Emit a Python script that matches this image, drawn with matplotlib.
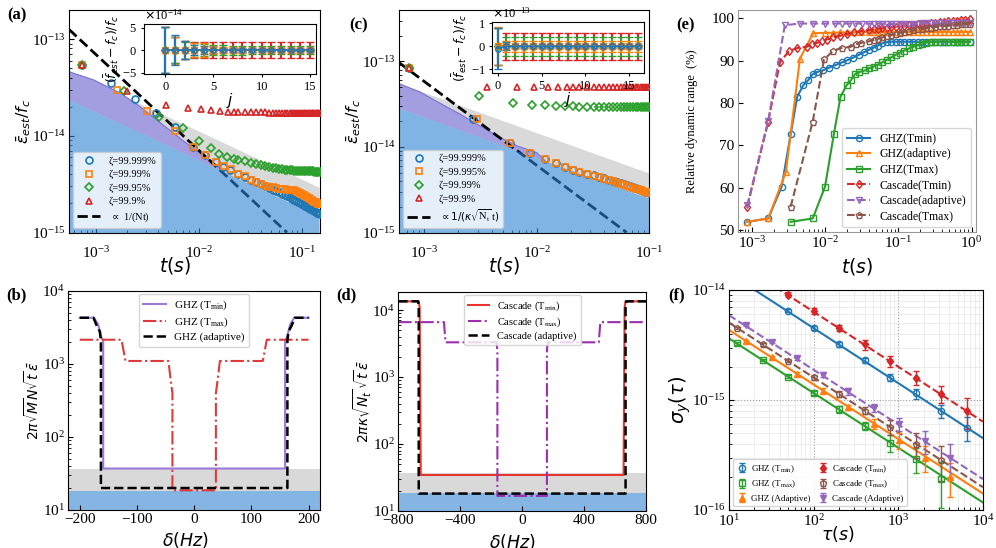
import numpy as np
import matplotlib
matplotlib.use("Agg")
import matplotlib.pyplot as plt

W, H = 996, 548

# ---------------- panel (a): GHZ, values in units of 1e-15 ----------------
A_T_TAIL = [0.024, 0.028, 0.032, 0.036, 0.040, 0.044, 0.048, 0.052, 0.056, 0.060,
            0.064, 0.068, 0.072, 0.076, 0.080, 0.084, 0.088, 0.092, 0.096, 0.100,
            0.104, 0.108, 0.112, 0.116, 0.120, 0.124, 0.128, 0.132, 0.136, 0.140,
            0.144, 0.148]
A_T_BLUE = [7.2e-4, 1.37e-3, 2.37e-3, 3.77e-3, 5.77e-3, 8.6e-3, 1.13e-2, 1.45e-2, 1.72e-2, 2.0e-2]
A_BLUE = [54, 35, 24, 17.4, 12.3, 7.7, 6.4, 5.4, 4.8, 4.4]
A_BLUE_TAIL = [4.0, 3.75, 3.5, 3.3, 3.15, 3.0, 2.88, 2.78, 2.68, 2.6, 2.52, 2.45, 2.38, 2.31,
               2.24, 2.17, 2.12, 2.07, 2.02, 1.97, 1.93, 1.88, 1.84, 1.80, 1.76, 1.73, 1.69,
               1.66, 1.63, 1.60, 1.58, 1.56]
A_T_ORANGE = [7.2e-4, 1.6e-3, 3.13e-3, 5.77e-3, 8.6e-3, 1.15e-2, 1.45e-2, 1.75e-2, 2.05e-2]
A_ORANGE = [54, 30, 18, 11.2, 7.7, 6.4, 5.4, 4.9, 4.5]
A_ORANGE_TAIL = [4.05, 3.8, 3.52, 3.35, 3.18, 3.05, 2.98, 2.93, 2.88, 2.84, 2.81, 2.79, 2.77,
                 2.76, 2.75, 2.72, 2.66, 2.6, 2.54, 2.48, 2.42, 2.37, 2.32, 2.27, 2.22, 2.17,
                 2.13, 2.09, 2.05, 2.02, 1.99, 1.96]
A_T_GREEN = [7.2e-4, 1.85e-3, 4.06e-3, 6.95e-3, 1.0e-2, 1.3e-2, 1.56e-2, 1.88e-2, 2.2e-2]
A_GREEN = [54, 29, 15.8, 12, 8.9, 7.4, 6.5, 6.1, 5.8]
A_GREEN_TAIL = [5.65, 5.45, 5.28, 5.12, 4.98, 4.87, 4.77, 4.68, 4.61, 4.55, 4.50, 4.46, 4.43,
                4.40, 4.38, 4.36, 4.34, 4.33, 4.32, 4.31, 4.30, 4.30, 4.29, 4.29, 4.28, 4.28,
                4.28, 4.27, 4.27, 4.27, 4.27, 4.27]
A_T_RED = [7.2e-4, 2.0e-3, 4.7e-3, 7.7e-3, 1.03e-2, 1.3e-2, 1.6e-2, 1.9e-2, 2.2e-2]
A_RED = [54, 29, 21, 19.2, 18.8, 18.5, 18.0, 17.8, 17.7]
A_RED_TAIL = [17.6, 17.6, 17.5, 17.5, 17.5, 17.5, 17.4, 17.4, 17.4, 17.4, 17.4, 17.4, 17.3,
              17.3, 17.3, 17.3, 17.3, 17.3, 17.3, 17.3, 17.3, 17.2, 17.2, 17.2, 17.2, 17.2,
              17.2, 17.2, 17.2, 17.2, 17.2, 17.2]
A_LABELS = ["ζ=99.999%", "ζ=99.99%", "ζ=99.95%", "ζ=99.9%"]
A_SHADE_T = [5.4e-4, 0.148]
A_BLUE_EDGE = [23.5, 1.46]
A_GRAY_EDGE = [47, 2.9]
A_PURPLE_T = [5.4e-4, 9.3e-4, 1.7e-3, 2.65e-3, 3.85e-3, 5.6e-3, 8.7e-3, 1.35e-2, 1.7e-2]
A_PURPLE = [46, 38, 27.7, 20, 14.6, 10.7, 7.4, 5.4, 4.26]
A_FIT_T = [5.4e-4, 0.0714]
A_FIT = [126, 1.0]

# inset (a): errors in units of 1e-14
A_J = [0, 1, 2, 3, 4, 5, 6, 7, 8, 9, 10, 11, 12, 13, 14, 15]
A_IN_MEAN = [0, 0, 0, 0, 0, 0, 0, 0, 0, 0, 0, 0, 0, 0, 0, 0]
A_IN_BLUE_ERR = [5.2, 3.3, 2.1, 1.2, 0.8, 0.6, 0.5, 0.45, 0.4, 0.35, 0.3, 0.3, 0.3, 0.3, 0.3, 0.3]
A_IN_ORANGE_ERR = [5.2, 3.0, 2.0, 1.6, 1.5, 0.9, 0.7, 0.6, 0.55, 0.5, 0.45, 0.4, 0.4, 0.4, 0.35, 0.35]
A_IN_GREEN_ERR = [5.2, 2.9, 1.9, 1.5, 1.4, 1.2, 1.1, 1.0, 1.0, 0.9, 0.9, 0.9, 0.9, 0.9, 0.9, 0.9]
A_IN_RED_ERR = [5.2, 2.9, 2.0, 1.7, 1.7, 1.7, 1.7, 1.7, 1.7, 1.7, 1.7, 1.7, 1.7, 1.7, 1.7, 1.7]

# ---------------- panel (c): Cascade, values in units of 1e-15 ----------------
C_T_TAIL = [0.024, 0.028, 0.032, 0.036, 0.040, 0.044, 0.048, 0.052, 0.056, 0.060,
            0.064, 0.068, 0.072, 0.076, 0.080, 0.084, 0.088, 0.092, 0.096, 0.100]
C_T_BLUE = [7.4e-4, 2.75e-3, 5.8e-3, 8.75e-3, 1.19e-2, 1.49e-2, 1.8e-2, 2.1e-2]
C_BLUE = [85, 21.5, 11.2, 8.6, 7.3, 6.46, 5.9, 5.4]
C_BLUE_TAIL = [5.1, 4.86, 4.65, 4.46, 4.3, 4.16, 4.03, 3.91, 3.8, 3.7, 3.6, 3.5, 3.41, 3.32,
               3.24, 3.16, 3.08, 3.01, 2.94, 2.88]
C_T_ORANGE = [7.4e-4, 2.94e-3, 5.8e-3, 8.75e-3, 1.19e-2, 1.49e-2, 1.8e-2, 2.1e-2]
C_ORANGE = [85, 21, 11.2, 8.6, 7.3, 6.46, 5.9, 5.4]
C_ORANGE_TAIL = [5.1, 4.85, 4.62, 4.42, 4.25, 4.1, 3.96, 3.84, 3.72, 3.62, 3.52, 3.43, 3.35,
                 3.27, 3.2, 3.13, 3.06, 3.0, 2.94, 2.88]
C_T_GREEN = [7.4e-4, 3.1e-3, 6.15e-3, 9.1e-3, 1.19e-2, 1.49e-2, 1.8e-2, 2.1e-2]
C_GREEN = [85, 40, 32.7, 31.3, 30.8, 30.4, 30.0, 29.8]
C_GREEN_TAIL = [29.7, 29.6, 29.6, 29.5, 29.5, 29.5, 29.4, 29.4, 29.4, 29.4, 29.4, 29.4, 29.4,
                29.4, 29.4, 29.4, 29.4, 29.4, 29.4, 29.4]
C_T_RED = [7.4e-4, 3.6e-3, 6.7e-3, 9.5e-3, 1.27e-2, 1.56e-2, 1.86e-2, 2.1e-2]
C_RED = [85, 50, 50.5, 50.5, 50.5, 50.5, 50.5, 50.5]
C_RED_TAIL = [50.5, 50.5, 50.5, 50.5, 50.5, 50.5, 50.5, 50.5, 50.5, 50.5, 50.5, 50.5, 50.5,
              50.5, 50.5, 50.5, 50.5, 50.5, 50.5, 50.5]
C_LABELS = ["ζ=99.999%", "ζ=99.995%", "ζ=99.99%", "ζ=99.9%"]
C_SHADE_T = [6e-4, 0.1]
C_BLUE_EDGE = [28.3, 2.48]
C_GRAY_EDGE = [55, 4.9]
C_PURPLE_T = [6e-4, 9.2e-4, 1.39e-3, 2.09e-3, 3.15e-3, 4.74e-3, 6.7e-3, 1.0e-2, 1.2e-2]
C_PURPLE = [55, 44, 32.4, 24.2, 17.6, 12.9, 10.3, 8.6, 6.8]
C_FIT_T = [6e-4, 0.063]
C_FIT = [97, 1.0]

# inset (c): units of 1e-13
C_J = [0, 1, 2, 3, 4, 5, 6, 7, 8, 9, 10, 11, 12, 13, 14, 15, 16]
C_IN_MEAN = [0, 0, 0, 0, 0, 0, 0, 0, 0, 0, 0, 0, 0, 0, 0, 0, 0]
C_IN_BLUE_MEAN = [-0.1, 0, 0, 0, 0, 0, 0, 0, 0, 0, 0, 0, 0, 0, 0, 0, 0]
C_IN_BLUE_ERR = [0.88, 0.18, 0.08, 0.06, 0.06, 0.06, 0.06, 0.06, 0.06, 0.06, 0.06, 0.06, 0.06,
                 0.06, 0.06, 0.06, 0.06]
C_IN_ORANGE_ERR = [0.83, 0.25, 0.25, 0.25, 0.25, 0.25, 0.25, 0.25, 0.25, 0.25, 0.25, 0.25, 0.25,
                   0.25, 0.25, 0.25, 0.25]
C_IN_GREEN_ERR = [0.8, 0.42, 0.42, 0.42, 0.42, 0.42, 0.42, 0.42, 0.42, 0.42, 0.42, 0.42, 0.42,
                  0.42, 0.42, 0.42, 0.42]
C_IN_RED_ERR = [0.8, 0.58, 0.58, 0.58, 0.58, 0.58, 0.58, 0.58, 0.58, 0.58, 0.58, 0.58, 0.58,
                0.58, 0.58, 0.58, 0.58]

# ---------------- panel (e): relative dynamic range (%) ----------------
E_T_TAIL = [0.04, 0.046, 0.053, 0.06, 0.07, 0.08, 0.092, 0.105, 0.12, 0.14, 0.16, 0.185,
            0.21, 0.24, 0.28, 0.32, 0.37, 0.42, 0.48, 0.55, 0.63, 0.72, 0.82, 0.95]
E_T_GHZ_TMIN = [8.7e-4, 1.68e-3, 2.56e-3, 3.4e-3, 4.18e-3, 5.05e-3, 5.9e-3, 6.8e-3, 7.7e-3,
                9.3e-3, 1.15e-2, 1.4e-2, 1.7e-2, 2.0e-2, 2.4e-2, 2.9e-2, 3.4e-2]
E_GHZ_TMIN = [51.9, 52.7, 60.2, 72.6, 81.5, 84.2, 85.4, 86.8, 87.3, 87.7, 88.4, 89.0, 89.6,
              90.1, 90.7, 91.4, 92.0]
E_GHZ_TMIN_TAIL = [92.6, 93.1, 93.6, 94.1, 94.4, 94.5, 94.5, 94.5, 94.5, 94.5, 94.5, 94.5,
                   94.5, 94.5, 94.5, 94.5, 94.5, 94.5, 94.5, 94.5, 94.5, 94.5, 94.5, 94.5]
E_T_GHZ_ADAPT = [8.7e-4, 1.68e-3, 2.93e-3, 4.55e-3, 6.9e-3, 1.0e-2, 1.3e-2, 1.6e-2, 2.0e-2,
                 2.5e-2, 3.1e-2]
E_GHZ_ADAPT = [51.9, 52.7, 63.7, 90.5, 96.5, 96.6, 96.6, 96.7, 96.7, 96.7, 96.8]
E_GHZ_ADAPT_TAIL = [96.8, 96.8, 96.8, 96.8, 96.8, 96.8, 96.8, 96.8, 96.8, 96.8, 96.8, 96.8,
                    96.8, 96.8, 96.8, 96.8, 96.8, 96.8, 96.8, 96.8, 96.8, 96.8, 96.8, 96.8]
E_T_GHZ_TMAX = [3.4e-3, 6.8e-3, 1.0e-2, 1.32e-2, 1.63e-2, 1.97e-2, 2.26e-2, 2.56e-2, 2.9e-2,
                3.5e-2]
E_GHZ_TMAX = [51.9, 52.7, 60.2, 72.6, 81.5, 84.2, 85.4, 86.8, 87.3, 87.7]
E_GHZ_TMAX_TAIL = [88.2, 88.6, 89.1, 89.6, 90.2, 90.8, 91.4, 91.9, 92.4, 92.9, 93.3, 93.7,
                   94.0, 94.3, 94.5, 94.5, 94.5, 94.5, 94.5, 94.5, 94.5, 94.5, 94.5, 94.5]
E_T_CAS_TMIN = [8.7e-4, 1.68e-3, 2.43e-3, 3.25e-3, 4.2e-3, 5.6e-3, 6.6e-3, 7.7e-3, 9.0e-3,
                1.05e-2, 1.3e-2, 1.6e-2, 2.0e-2, 2.5e-2, 3.1e-2]
E_CAS_TMIN = [55.5, 75.6, 89.7, 92.3, 93.0, 93.3, 93.9, 94.2, 94.6, 95.0, 95.5, 95.9, 96.3,
              96.7, 97.0]
E_CAS_TMIN_TAIL = [97.3, 97.4, 97.6, 97.7, 97.8, 97.9, 98.0, 98.1, 98.3, 98.4, 98.5, 98.6,
                   98.7, 98.8, 98.9, 99.0, 99.1, 99.2, 99.3, 99.4, 99.5, 99.6, 99.7, 99.8]
E_T_CAS_ADAPT = [8.7e-4, 1.68e-3, 2.83e-3, 4.5e-3, 6.9e-3, 1.0e-2, 1.36e-2, 1.7e-2, 2.1e-2,
                 2.6e-2, 3.2e-2]
E_CAS_ADAPT = [55.8, 75.8, 98.4, 98.8, 98.8, 98.8, 98.8, 98.8, 98.8, 98.8, 98.8]
E_CAS_ADAPT_TAIL = [98.8, 98.8, 98.8, 98.8, 98.8, 98.8, 98.8, 98.8, 98.8, 98.8, 98.8, 98.8,
                    98.9, 98.9, 98.9, 98.9, 98.9, 98.9, 98.9, 98.9, 98.9, 98.9, 98.9, 98.9]
E_T_CAS_TMAX = [3.4e-3, 6.8e-3, 9.7e-3, 1.3e-2, 1.68e-2, 2.24e-2, 2.64e-2, 3.1e-2]
E_CAS_TMAX = [55.5, 75.6, 90.3, 92.4, 93.0, 93.3, 93.9, 94.2]
E_CAS_TMAX_TAIL = [94.6, 94.9, 95.2, 95.5, 95.8, 96.1, 96.4, 96.6, 96.8, 97.0, 97.2, 97.4,
                   97.5, 97.7, 97.8, 98.0, 98.1, 98.2, 98.3, 98.4, 98.5, 98.6, 98.7, 98.8]

# ---------------- panel (b): GHZ vs detuning ----------------
B_D_TMIN = [-200, -175, -168, -162, -159, -159, 159, 159, 162, 168, 175, 200]
B_TMIN = [4300, 4300, 3500, 2300, 2100, 37, 37, 2100, 2300, 3500, 4300, 4300]
B_D_TMAX = [-200, -127, -120, -45, -41, -38, -38, 38, 38, 41, 45, 120, 127, 200]
B_TMAX = [2150, 2150, 1100, 1100, 600, 400, 18.6, 18.6, 400, 600, 1100, 1100, 2150, 2150]
B_D_ADAPT = [-200, -176, -170, -165, -163, -163, 163, 163, 165, 170, 176, 200]
B_ADAPT = [4300, 4300, 3300, 2800, 2100, 20, 20, 2100, 2800, 3300, 4300, 4300]
B_GRAY_TOP = 36.5
B_BLUE_TOP = 18.4

# ---------------- panel (d): Cascade vs detuning ----------------
D_D_TMIN = [-800, -668, -662, -655, 655, 662, 668, 800]
D_TMIN = [13500, 13500, 11000, 34.5, 34.5, 11000, 13500, 13500]
D_D_TMAX = [-800, -505, -495, -165, -160, -160, 160, 160, 165, 495, 505, 800]
D_TMAX = [6600, 6600, 3300, 3300, 2500, 16.8, 16.8, 2500, 3300, 3300, 6600, 6600]
D_D_ADAPT = [-800, -672, -668, -668, 668, 668, 672, 800]
D_ADAPT = [13500, 13500, 11000, 18.2, 18.2, 11000, 13500, 13500]
D_GRAY_TOP = 37.3
D_BLUE_TOP = 18.4

# ---------------- panel (f): Allan deviation ----------------
F_TAU_TMIN = [50, 100, 200, 400, 800, 1600, 3200, 6400]
F_TAU_TMAX = [12.5, 25, 50, 100, 200, 400, 800, 1600, 3200]
F_TAU_ADAPT = [16, 32, 64, 128, 256, 512, 1024, 2048, 4096]
F_GHZ_TMIN = [6.5e-15, 4.55e-15, 3.2e-15, 2.3e-15, 1.6e-15, 1.15e-15, 8.0e-16, 5.6e-16]
F_GHZ_TMIN_ERR = [2.5e-16, 2e-16, 1.5e-16, 1.2e-16, 1.2e-16, 1.2e-16, 1.1e-16, 1.4e-16]
F_GHZ_TMAX = [3.27e-15, 2.31e-15, 1.63e-15, 1.16e-15, 8.2e-16, 5.8e-16, 4.1e-16, 2.9e-16, 1.9e-16]
F_GHZ_TMAX_ERR = [8e-17, 7e-17, 6e-17, 6e-17, 6e-17, 5e-17, 7.5e-17, 7.5e-17, 8.5e-17]
F_GHZ_ADAPT = [3.44e-15, 2.45e-15, 1.73e-15, 1.22e-15, 8.6e-16, 6.1e-16, 4.3e-16, 3.0e-16, 2.0e-16]
F_GHZ_ADAPT_ERR = [8e-17, 8e-17, 7e-17, 7e-17, 5e-17, 6e-17, 7e-17, 8e-17, 7e-17]
F_CAS_TMIN = [9.1e-15, 6.4e-15, 4.5e-15, 3.2e-15, 2.25e-15, 1.6e-15, 1.13e-15, 7.9e-16]
F_CAS_TMIN_ERR = [5e-16, 4e-16, 3e-16, 3.3e-16, 2.5e-16, 2.2e-16, 2e-16, 2.5e-16]
F_CAS_TMAX = [4.55e-15, 3.22e-15, 2.28e-15, 1.61e-15, 1.14e-15, 8.0e-16, 5.7e-16, 4.0e-16, 2.85e-16]
F_CAS_TMAX_ERR = [1e-16, 1e-16, 8e-17, 8e-17, 8e-17, 6e-17, 9e-17, 1e-16, 1e-16]
F_CAS_ADAPT = [4.8e-15, 3.4e-15, 2.4e-15, 1.7e-15, 1.2e-15, 8.5e-16, 6.0e-16, 4.2e-16, 3.0e-16]
F_CAS_ADAPT_ERR = [1e-16, 1e-16, 1e-16, 8e-17, 8e-17, 7e-17, 8e-17, 1e-16, 1e-16]
F_FIT_TAU = [10, 1e4]
F_FIT_GHZ_TMIN = [1.42e-14, 4.5e-16]
F_FIT_GHZ_TMAX = [3.63e-15, 1.17e-16]
F_FIT_GHZ_ADAPT = [4.33e-15, 1.41e-16]
F_FIT_CAS_TMIN = [2.0e-14, 6.35e-16]
F_FIT_CAS_TMAX = [5.05e-15, 1.61e-16]
F_FIT_CAS_ADAPT = [5.9e-15, 1.91e-16]

plt.rcParams["font.family"] = ["Liberation Serif", "DejaVu Serif"]
plt.rcParams["mathtext.fontset"] = "dejavusans"
plt.rcParams["xtick.labelsize"] = 11
plt.rcParams["ytick.labelsize"] = 11
plt.rcParams["xtick.direction"] = "in"
plt.rcParams["ytick.direction"] = "in"
plt.rcParams["xtick.major.pad"] = 2.5
plt.rcParams["ytick.major.pad"] = 2.5

BLUE_FILL = "#2b82d5"
PURPLE_FILL = "#a29edf"
PURPLE_EDGE = "#7b70d8"
GRAY_FILL = "#d9d9d9"
BAND_BLUE = "#85b6e3"
E15 = 1e-15


def px_axes(fig, x0, y0, x1, y1):
    return fig.add_axes([x0 / W, 1 - y1 / H, (x1 - x0) / W, (y1 - y0) / H])


def place_labels(ax, xlab, ylab_right):
    # positions given in axes fractions
    ax.xaxis.set_label_coords(*xlab)
    ax.yaxis.set_label_coords(ylab_right, 0.5)


def shade_bounds(ax, t_edge, blue_edge, gray_edge, purple_t, purple_y):
    t0, t1 = t_edge
    b = np.array(blue_edge) * E15
    g = np.array(gray_edge) * E15
    ax.fill([t0, t1, t1, t0], [g[0], g[1], b[1], b[0]], color=GRAY_FILL, lw=0, zorder=1)
    pt = list(purple_t) + [t0]
    py = list(np.array(purple_y) * E15) + [b[0]]
    ax.fill(pt, py, color=PURPLE_FILL, lw=0, zorder=1.5)
    ax.plot(purple_t, np.array(purple_y) * E15, color=PURPLE_EDGE, lw=0.8, zorder=1.6)
    ax.fill([t0, t1, t1, t0], [1e-17, 1e-17, b[1], b[0]], color=BLUE_FILL, alpha=0.6,
            lw=0, zorder=2.5)


def estimate_panel(ax, series, labels, t_tail, fit_t, fit_y, fit_label, xlim, ylim, xlab_x):
    colors = ["tab:blue", "tab:orange", "tab:green", "tab:red"]
    markers = ["o", "s", "D", "^"]
    for (th, yh, yt), c, m, lab in zip(series, colors, markers, labels):
        t = list(th) + list(t_tail)
        y = np.array(list(yh) + list(yt)) * E15
        ax.plot(t, y, ls="none", marker=m, ms=5 if m != "D" else 4.3, mfc="none", mec=c,
                mew=1.2, label=lab, zorder=3)
    ax.plot(fit_t, np.array(fit_y) * E15, "--", color="black", lw=2, label=fit_label,
            zorder=2.2)
    ax.set_xscale("log")
    ax.set_yscale("log")
    ax.set_xlim(*xlim)
    ax.set_ylim(*ylim)
    ax.tick_params(axis="x", which="major", pad=9)
    ax.set_xlabel(r"$t(s)$", fontsize=13.5)
    ax.set_ylabel(r"$\bar{\varepsilon}_{est}/f_c$", fontsize=11.5)
    place_labels(ax, (xlab_x, -0.1), -0.145)
    ax.legend(loc="lower left", fontsize=7.5, labelspacing=0.4, borderaxespad=0.4,
              handlelength=2.2)


def inset_panel(ins, j, means, errs, scale, xlim, ylim, yticks):
    colors = ["tab:blue", "tab:orange", "tab:green", "tab:red"]
    markers = ["o", "s", "D", "^"]
    for k in [3, 2, 1, 0]:
        ins.errorbar(j, np.array(means[k]) * scale, yerr=np.array(errs[k]) * scale,
                     fmt="-" + markers[k], color=colors[k], ms=4, mfc="none", capsize=3,
                     lw=1.2, elinewidth=1.5, mew=1)
    ins.set_xlim(*xlim)
    ins.set_ylim(*ylim)
    ins.set_yticks(np.array(yticks) * scale)
    ins.set_xticks([0, 5, 10, 15])
    ins.tick_params(labelsize=9, length=2.5, direction="out")
    ins.ticklabel_format(axis="y", style="sci", scilimits=(0, 0), useMathText=True)
    ins.yaxis.get_offset_text().set_fontsize(9)
    ins.set_xlabel(r"$j$", fontsize=11, labelpad=-1.5)
    ins.set_ylabel(r"$(\bar{f}_{est}-f_c)/f_c$", fontsize=9, labelpad=1)


fig = plt.figure(figsize=(W / 100, H / 100), dpi=100)

# ---- (a) ----
ax_a = px_axes(fig, 69, 10, 319.5, 232.5)
shade_bounds(ax_a, A_SHADE_T, A_BLUE_EDGE, A_GRAY_EDGE, A_PURPLE_T, A_PURPLE)
estimate_panel(ax_a,
               [(A_T_BLUE, A_BLUE, A_BLUE_TAIL), (A_T_ORANGE, A_ORANGE, A_ORANGE_TAIL),
                (A_T_GREEN, A_GREEN, A_GREEN_TAIL), (A_T_RED, A_RED, A_RED_TAIL)],
               A_LABELS, A_T_TAIL, A_FIT_T, A_FIT, r"$\propto$ 1/(Nt)",
               (5.4e-4, 0.148), (1e-15, 2e-13), 0.425)
ins_a = px_axes(fig, 144, 24, 315.7, 74.3)
inset_panel(ins_a, A_J, [A_IN_MEAN] * 4,
            [A_IN_BLUE_ERR, A_IN_ORANGE_ERR, A_IN_GREEN_ERR, A_IN_RED_ERR], 1e-14,
            (-2.2, 15.6), (-5.4e-14, 5.8e-14), [-5, 0, 5])

# ---- (c) ----
ax_c = px_axes(fig, 399, 10, 649.3, 232.5)
shade_bounds(ax_c, C_SHADE_T, C_BLUE_EDGE, C_GRAY_EDGE, C_PURPLE_T, C_PURPLE)
estimate_panel(ax_c,
               [(C_T_BLUE, C_BLUE, C_BLUE_TAIL), (C_T_ORANGE, C_ORANGE, C_ORANGE_TAIL),
                (C_T_GREEN, C_GREEN, C_GREEN_TAIL), (C_T_RED, C_RED, C_RED_TAIL)],
               C_LABELS, C_T_TAIL, C_FIT_T, C_FIT,
               r"$\propto 1/(\kappa\sqrt{\mathdefault{N_t}}\,\mathdefault{t})$",
               (6e-4, 0.1), (1e-15, 4e-13), 0.42)
ins_c = px_axes(fig, 492.3, 21.7, 644.3, 73.3)
inset_panel(ins_c, C_J, [C_IN_BLUE_MEAN, C_IN_MEAN, C_IN_MEAN, C_IN_MEAN],
            [C_IN_BLUE_ERR, C_IN_ORANGE_ERR, C_IN_GREEN_ERR, C_IN_RED_ERR], 1e-13,
            (-0.6, 16.7), (-1.17e-13, 1.07e-13), [-1, 0, 1])

# ---- (e) ----
ax_e = px_axes(fig, 738, 10, 976, 232)
e_series = [
    (E_T_GHZ_TMIN, E_GHZ_TMIN, E_GHZ_TMIN_TAIL, "tab:blue", "o", "-", "GHZ(Tmin)"),
    (E_T_GHZ_ADAPT, E_GHZ_ADAPT, E_GHZ_ADAPT_TAIL, "tab:orange", "^", "-", "GHZ(adaptive)"),
    (E_T_GHZ_TMAX, E_GHZ_TMAX, E_GHZ_TMAX_TAIL, "tab:green", "s", "-", "GHZ(Tmax)"),
    (E_T_CAS_TMIN, E_CAS_TMIN, E_CAS_TMIN_TAIL, "tab:red", "d", "--", "Cascade(Tmin)"),
    (E_T_CAS_ADAPT, E_CAS_ADAPT, E_CAS_ADAPT_TAIL, "tab:purple", "v", "--", "Cascade(adaptive)"),
    (E_T_CAS_TMAX, E_CAS_TMAX, E_CAS_TMAX_TAIL, "tab:brown", "p", "--", "Cascade(Tmax)"),
]
for th, yh, yt, c, m, ls, lab in e_series:
    ax_e.plot(list(th) + E_T_TAIL, list(yh) + list(yt), ls=ls, marker=m, color=c, ms=4.5,
              mfc="none", mew=1, lw=1.5, label=lab)
ax_e.set_xscale("log")
ax_e.set_xlim(6.5e-4, 1.15)
ax_e.set_ylim(49.5, 102)
ax_e.set_yticks([50, 60, 70, 80, 90, 100])
ax_e.set_xlabel(r"$t(s)$", fontsize=13.5)
ax_e.set_ylabel("Relative dynamic range  (%)", fontsize=9)
place_labels(ax_e, (0.5, -0.11), -0.17)
ax_e.legend(loc="lower right", fontsize=8.5, labelspacing=0.3, borderaxespad=0.4)
for s in ax_e.spines.values():
    s.set_color("0.6")

# ---- (b) ----
ax_b = px_axes(fig, 68.3, 291, 320, 510)
ax_b.axhspan(10, B_GRAY_TOP, color=GRAY_FILL, lw=0)
ax_b.axhspan(10, B_BLUE_TOP, color=BAND_BLUE, lw=0)
ax_b.plot(B_D_TMIN, B_TMIN, "-", color="#9b79d9", lw=1.5, label=r"GHZ ($\mathdefault{T_{min}}$)")
ax_b.plot(B_D_TMAX, B_TMAX, "-.", color="#e0393b", lw=1.5, label=r"GHZ ($\mathdefault{T_{max}}$)")
ax_b.plot(B_D_ADAPT, B_ADAPT, "--", color="black", lw=1.8, label="GHZ (adaptive)")
ax_b.set_yscale("log")
ax_b.set_xlim(-220, 220)
ax_b.set_ylim(10, 1e4)
ax_b.set_xticks([-200, -100, 0, 100, 200])
ax_b.set_xlabel(r"$\delta(Hz)$", fontsize=12.5)
ax_b.set_ylabel(r"$2\pi\sqrt{M}N\sqrt{t}\,\bar{\varepsilon}$", fontsize=10)
place_labels(ax_b, (0.464, -0.09), -0.105)
ax_b.legend(loc="upper center", fontsize=8, labelspacing=0.3, borderaxespad=0.3)

# ---- (d) ----
ax_d = px_axes(fig, 398.3, 292, 646, 511)
ax_d.axhspan(10, D_GRAY_TOP, color=GRAY_FILL, lw=0)
ax_d.axhspan(10, D_BLUE_TOP, color=BAND_BLUE, lw=0)
ax_d.plot(D_D_TMIN, D_TMIN, "-", color="#e8352f", lw=1.5, label=r"Cascade ($\mathdefault{T_{min}}$)")
ax_d.plot(D_D_TMAX, D_TMAX, "-.", color="#9b2fae", lw=1.5, label=r"Cascade ($\mathdefault{T_{max}}$)")
ax_d.plot(D_D_ADAPT, D_ADAPT, "--", color="black", lw=1.8, label="Cascade (adaptive)")
ax_d.set_yscale("log")
ax_d.set_xlim(-800, 800)
ax_d.set_ylim(10, 1.86e4)
ax_d.set_xticks([-800, -400, 0, 400, 800])
ax_d.set_xlabel(r"$\delta(Hz)$", fontsize=12.5)
ax_d.set_ylabel(r"$2\pi\kappa\sqrt{N_t}\,\sqrt{t}\,\bar{\varepsilon}$", fontsize=10)
place_labels(ax_d, (0.46, -0.095), -0.1)
ax_d.legend(loc="upper center", fontsize=7.5, labelspacing=0.25, borderaxespad=0.3)

# ---- (f) ----
ax_f = px_axes(fig, 729, 290, 983, 510)
f_series = [
    (F_TAU_TMIN, F_GHZ_TMIN, F_GHZ_TMIN_ERR, F_FIT_GHZ_TMIN, "tab:blue", "o", "none", "-",
     r"GHZ ($\mathdefault{T_{min}}$)"),
    (F_TAU_TMAX, F_GHZ_TMAX, F_GHZ_TMAX_ERR, F_FIT_GHZ_TMAX, "tab:green", "s", "none", "-",
     r"GHZ ($\mathdefault{T_{max}}$)"),
    (F_TAU_ADAPT, F_GHZ_ADAPT, F_GHZ_ADAPT_ERR, F_FIT_GHZ_ADAPT, "tab:orange", "^", None, "-",
     "GHZ (Adaptive)"),
    (F_TAU_TMIN, F_CAS_TMIN, F_CAS_TMIN_ERR, F_FIT_CAS_TMIN, "tab:red", "d", None, "--",
     r"Cascade ($\mathdefault{T_{min}}$)"),
    (F_TAU_TMAX, F_CAS_TMAX, F_CAS_TMAX_ERR, F_FIT_CAS_TMAX, "tab:brown", "p", "none", "--",
     r"Cascade ($\mathdefault{T_{max}}$)"),
    (F_TAU_ADAPT, F_CAS_ADAPT, F_CAS_ADAPT_ERR, F_FIT_CAS_ADAPT, "tab:purple", "v", None, "--",
     "Cascade (Adaptive)"),
]
for tau, y, err, fit, c, m, mfc, ls, lab in f_series:
    kw = {"mfc": mfc} if mfc else {}
    ax_f.errorbar(tau, y, yerr=err, fmt=m, color=c, ms=4.5, capsize=2, elinewidth=1,
                  mew=1, label=lab, zorder=3, **kw)
    ax_f.plot(F_FIT_TAU, fit, ls=ls, color=c, lw=1.5, zorder=2)
ax_f.set_xscale("log")
ax_f.set_yscale("log")
ax_f.set_xlim(10, 1e4)
ax_f.set_ylim(1e-16, 1e-14)
ax_f.grid(which="major", ls=":", color="0.6", lw=0.8)
ax_f.grid(which="minor", ls="-", color="0.9", lw=0.5)
ax_f.set_xlabel(r"$\tau(s)$", fontsize=12.5)
ax_f.set_ylabel(r"$\sigma_y(\tau)$", fontsize=14)
place_labels(ax_f, (0.43, -0.065), -0.14)
ax_f.legend(loc="lower left", fontsize=6.5, ncol=2, columnspacing=0.8, handlelength=1.2,
            handletextpad=0.4, labelspacing=0.45, borderaxespad=0.4)

# panel tags
for tag, x, y in [("(a)", 16.7, 15), ("(c)", 358.3, 25), ("(e)", 685, 25),
                  ("(b)", 16.7, 295), ("(d)", 346.7, 295), ("(f)", 676.7, 295)]:
    fig.text(x / W, 1 - y / H, tag, ha="center", va="center", fontsize=12, fontweight="bold")

fig.savefig("out.png", dpi=100)
